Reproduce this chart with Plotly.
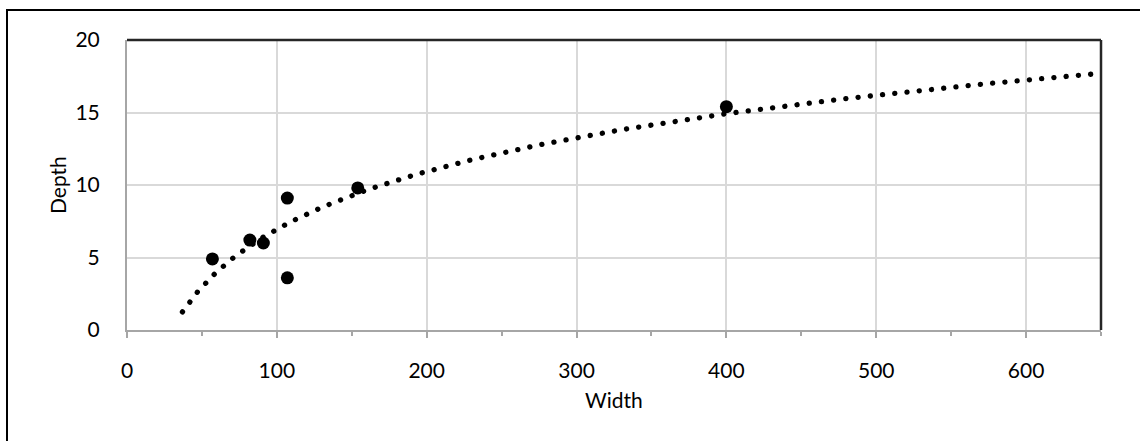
import numpy as np
import plotly.graph_objects as go

# Channel measurements
width = [57, 82, 91, 107, 107, 154, 400]
depth = [4.9, 6.2, 6.0, 9.1, 3.6, 9.8, 15.4]

# Logarithmic trendline settings (forecast backward / forward in x units)
forecast_backward = 20
forecast_forward = 250

x_ticks = [0, 100, 200, 300, 400, 500, 600]
y_ticks = [0, 5, 10, 15, 20]

# Least-squares fit of depth = a*ln(width) + b
a, b = np.polyfit(np.log(width), depth, 1)
trend_x = np.geomspace(min(width) - forecast_backward, max(width) + forecast_forward, 400)
trend_y = a * np.log(trend_x) + b

FONT = "Lato"
FS = 21
GRID = "#d9d9d9"
AXIS = "#a6a6a6"

fig = go.Figure()
fig.add_trace(go.Scatter(
    x=width, y=depth, mode="markers",
    marker=dict(size=13, color="black"),
    hoverinfo="skip", showlegend=False,
))
fig.add_trace(go.Scatter(
    x=trend_x, y=trend_y, mode="lines",
    line=dict(color="black", width=5.3, dash="0.1px,12.2px"),
    hoverinfo="skip", showlegend=False,
))

L, R, T, B = 127, 39, 40, 111
W, H = 1140, 441
pw, ph = W - L - R, H - T - B

fig.update_layout(
    width=W, height=H,
    margin=dict(l=L, r=R, t=T, b=B, pad=0),
    paper_bgcolor="white", plot_bgcolor="white",
    font=dict(family=FONT, size=FS, color="black"),
    xaxis=dict(
        range=[0, 650], tickvals=x_ticks, ticktext=[str(v) for v in x_ticks],
        showgrid=True, gridcolor=GRID, gridwidth=2,
        showline=True, linecolor=AXIS, linewidth=2,
        ticks="outside", ticklen=6, tickcolor=AXIS, tickwidth=2,
        minor=dict(dtick=50, tick0=0, ticks="outside", ticklen=4,
                   tickcolor=AXIS, tickwidth=2, showgrid=False),
        zeroline=False, ticklabelstandoff=15,
        tickfont=dict(family=FONT, size=FS),
    ),
    yaxis=dict(
        range=[0, 20], tickvals=y_ticks, ticktext=[str(v) for v in y_ticks],
        showgrid=True, gridcolor=GRID, gridwidth=2,
        showline=True, linecolor=AXIS, linewidth=2,
        ticks="", zeroline=False, ticklabelstandoff=21,
        tickfont=dict(family=FONT, size=FS),
    ),
    shapes=[
        # plot-area frame on top and right
        dict(type="line", xref="paper", yref="paper", x0=0, x1=1, y0=1, y1=1,
             line=dict(color="#262626", width=2.5)),
        dict(type="line", xref="paper", yref="paper", x0=1, x1=1, y0=0, y1=1,
             line=dict(color="#262626", width=2.5)),
        # chart border
        dict(type="rect", xref="paper", yref="paper",
             x0=(7 - L) / pw, x1=(W + 20 - L) / pw,
             y0=-(H + 20 - T - ph) / ph, y1=1 + (T - 10) / ph,
             line=dict(color="black", width=2), layer="below"),
    ],
    annotations=[
        dict(text="Width", xref="paper", yref="paper", x=0.5, y=-(399 - T - ph) / ph,
             xanchor="center", yanchor="middle", showarrow=False,
             font=dict(family=FONT, size=FS)),
        dict(text="Depth", xref="paper", yref="paper", x=(57 - L) / pw, y=0.5,
             xanchor="center", yanchor="middle", textangle=-90, showarrow=False,
             font=dict(family=FONT, size=FS)),
    ],
)

post = """
document.querySelectorAll('.scatterlayer .trace path.js-line').forEach(function(p){
  p.style.strokeLinecap = 'round';
});
"""
fig.write_html("out.html", post_script=post)
